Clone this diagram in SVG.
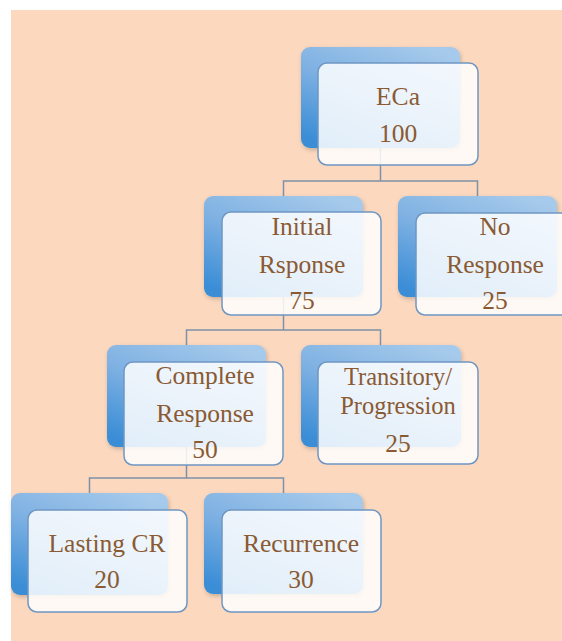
<svg xmlns="http://www.w3.org/2000/svg" width="562" height="641" viewBox="0 0 562 641">
<style>
.bg{fill:#FBD8BE}
.back{fill:url(#gBack)}
.front{fill:#FFFFFF;fill-opacity:0.85;stroke:#6F96C2;stroke-width:1.5}
.lbl{font-family:"Liberation Serif","Times New Roman",serif;font-size:25.5px;fill:#8A5A33;text-anchor:middle}
.tight{font-size:24.5px}
.conn{fill:none;stroke:#7D91A8;stroke-width:1.5}
</style>
<defs>
<linearGradient id="gBack" x1="0.8" y1="0" x2="0.2" y2="1">
<stop offset="0" stop-color="#A6CAEB"/>
<stop offset="0.5" stop-color="#7DB0E2"/>
<stop offset="1" stop-color="#3A8DD6"/>
</linearGradient>
<filter id="sh" x="-10%" y="-10%" width="125%" height="125%">
<feDropShadow dx="1" dy="2" stdDeviation="2" flood-color="#000" flood-opacity="0.2"/>
</filter>
</defs>
<rect class="bg" x="11" y="10" width="551" height="631"/>
<g id="connectors">
<path class="conn" d="M380.5,148 V181 M283.5,196 V181 H477.5 V196"/>
<path class="conn" d="M283.5,297 V330 M186.5,345 V330 H380.5 V345"/>
<path class="conn" d="M186.5,447 V478 M89.5,493 V478 H283.5 V493"/>
</g>
<g id="node-eca">
<rect class="back" filter="url(#sh)" x="301" y="47" width="159" height="101" rx="9"/>
<rect class="front" x="318" y="63" width="160" height="102" rx="9"/>
<text class="lbl" x="398" y="105">ECa</text>
<text class="lbl" x="398" y="142">100</text>
</g>
<g id="node-initial">
<rect class="back" filter="url(#sh)" x="204" y="196" width="159" height="101" rx="9"/>
<rect class="front" x="222" y="212" width="159" height="103" rx="9"/>
<text class="lbl" x="302" y="235">Initial</text>
<text class="lbl" x="302" y="273">Rsponse</text>
<text class="lbl" x="302" y="309">75</text>
</g>
<g id="node-noresponse">
<rect class="back" filter="url(#sh)" x="398" y="196" width="159" height="101" rx="9"/>
<rect class="front" x="416" y="213" width="160" height="102" rx="9"/>
<text class="lbl" x="495" y="235">No</text>
<text class="lbl" x="495" y="273">Response</text>
<text class="lbl" x="495" y="309">25</text>
</g>
<g id="node-complete">
<rect class="back" filter="url(#sh)" x="107" y="345" width="159" height="102" rx="9"/>
<rect class="front" x="124" y="362" width="159" height="103" rx="9"/>
<text class="lbl" x="205" y="384">Complete</text>
<text class="lbl" x="205" y="422">Response</text>
<text class="lbl" x="205" y="458">50</text>
</g>
<g id="node-transitory">
<rect class="back" filter="url(#sh)" x="301" y="345" width="160" height="102" rx="9"/>
<rect class="front" x="318" y="362" width="160" height="102" rx="9"/>
<text class="lbl tight" x="398" y="385">Transitory/</text>
<text class="lbl tight" x="398" y="414">Progression</text>
<text class="lbl" x="398" y="452">25</text>
</g>
<g id="node-lasting">
<rect class="back" filter="url(#sh)" x="11" y="493" width="157" height="102" rx="9"/>
<rect class="front" x="28" y="510" width="159" height="102" rx="9"/>
<text class="lbl" x="107" y="552">Lasting CR</text>
<text class="lbl" x="107" y="588">20</text>
</g>
<g id="node-recurrence">
<rect class="back" filter="url(#sh)" x="204" y="493" width="159" height="101" rx="9"/>
<rect class="front" x="222" y="510" width="159" height="102" rx="9"/>
<text class="lbl" x="301" y="552">Recurrence</text>
<text class="lbl" x="301" y="588">30</text>
</g>
</svg>
